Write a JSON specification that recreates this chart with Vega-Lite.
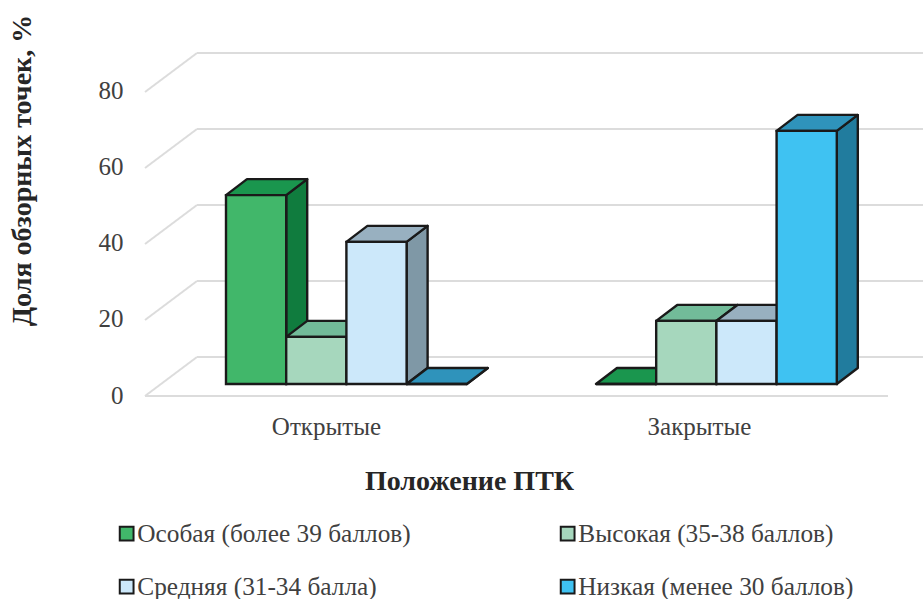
{
"$schema":"https://vega.github.io/schema/vega-lite/v6.json",
"width":798,"height":395,
"autosize":{"type":"none"},
"padding":{"left":125,"top":10,"right":0,"bottom":194},
"background":"white",
"config":{"view":{"stroke":null},"font":"Liberation Serif"},
"datasets":{
"bars":[
{"group":"Открытые","series":"Особая (более 39 баллов)","value":49.7},
{"group":"Открытые","series":"Высокая (35-38 баллов)","value":12.4},
{"group":"Открытые","series":"Средняя (31-34 балла)","value":37.4},
{"group":"Открытые","series":"Низкая (менее 30 баллов)","value":0},
{"group":"Закрытые","series":"Особая (более 39 баллов)","value":0},
{"group":"Закрытые","series":"Высокая (35-38 баллов)","value":16.6},
{"group":"Закрытые","series":"Средняя (31-34 балла)","value":16.6},
{"group":"Закрытые","series":"Низкая (менее 30 баллов)","value":66.6}
],
"grid":[{"tick":0},{"tick":20},{"tick":40},{"tick":60},{"tick":80}]
},
"layer":[
{"data":{"name":"grid"},
 "transform":[{"calculate":"datum.tick+7.105","as":"back"}],
 "mark":{"type":"rule","color":"#dcdcdc","strokeWidth":2},
 "encoding":{
  "y":{"field":"back","type":"quantitative","scale":{"domain":[-5.526,98.42],"nice":false,"zero":false},
   "axis":{"orient":"left","values":[0,20,40,60,80],"domain":false,"ticks":false,"grid":false,"labelOffset":11,
    "labelFontSize":25,"labelColor":"#404040","labelPadding":2,"labelFont":"Liberation Serif",
    "title":"Доля обзорных точек, %","titleFontSize":28,"titleFontWeight":"bold","titleColor":"#262626","titleFont":"Liberation Serif","titleX":-103,"titleY":160,"titleBaseline":"middle"}},
  "x":{"datum":-0.4817,"type":"quantitative","scale":{"domain":[-1.6777,11.578],"nice":false,"zero":false},
   "axis":{"orient":"bottom","values":[1.661,7.857],"labelExpr":"datum.value<5?'Открытые':'Закрытые'","domain":false,"ticks":false,"grid":false,
    "labelFontSize":25,"labelColor":"#404040","labelPadding":9,"labelFont":"Liberation Serif",
    "title":"Положение ПТК","titleFontSize":28,"titleFontWeight":"bold","titleColor":"#262626","titleFont":"Liberation Serif","titleX":344,"titleY":76,"titleBaseline":"middle"}},
  "x2":{"datum":11.578}
 }},
{"data":{"name":"grid"},
 "transform":[{"calculate":"datum.tick+7.105","as":"back"},{"calculate":"datum.tick-3.158","as":"front"}],
 "mark":{"type":"rule","color":"#dcdcdc","strokeWidth":2},
 "encoding":{
  "y":{"field":"front","type":"quantitative"},
  "y2":{"field":"back"},
  "x":{"datum":-1.3455,"type":"quantitative"},
  "x2":{"datum":-0.4817}
 }},
{"data":{"name":"grid"},
 "transform":[{"filter":"datum.tick==0"},{"calculate":"datum.tick-3.158","as":"front"}],
 "mark":{"type":"rule","color":"#dcdcdc","strokeWidth":2},
 "encoding":{
  "y":{"field":"front","type":"quantitative"},
  "x":{"datum":-1.3455,"type":"quantitative"},
  "x2":{"datum":10.997}
 }},
{"data":{"name":"bars"},
 "transform":[
  {"calculate":"(datum.group=='Открытые'?0:6.146)+indexof(['Особая (более 39 баллов)','Высокая (35-38 баллов)','Средняя (31-34 балла)','Низкая (менее 30 баллов)'],datum.series)","as":"u"},
  {"calculate":"[0,1]","as":"t"},{"flatten":["t"]},
  {"calculate":"datum.u+1+datum.t*0.349","as":"sx"},
  {"calculate":"datum.value+datum.t*4.21","as":"sy"},
  {"calculate":"datum.t*4.21","as":"sy0"}
 ],
 "mark":{"type":"area","stroke":"#1a1a1a","strokeWidth":2.4,"strokeJoin":"round"},
 "encoding":{
  "x":{"field":"sx","type":"quantitative"},
  "y":{"field":"sy","type":"quantitative"},
  "y2":{"field":"sy0"},
  "detail":{"field":"u"},
  "fill":{"field":"series","type":"nominal","legend":null,
   "scale":{"domain":["Особая (более 39 баллов)","Высокая (35-38 баллов)","Средняя (31-34 балла)","Низкая (менее 30 баллов)"],
   "range":["#107c3e","#5ea584","#7f98a6","#217c9e"]}}
 }},
{"data":{"name":"bars"},
 "transform":[
  {"calculate":"(datum.group=='Открытые'?0:6.146)+indexof(['Особая (более 39 баллов)','Высокая (35-38 баллов)','Средняя (31-34 балла)','Низкая (менее 30 баллов)'],datum.series)","as":"u"},
  {"calculate":"[0,1]","as":"t"},{"flatten":["t"]},
  {"calculate":"datum.u+datum.t*0.349","as":"tx"},
  {"calculate":"datum.u+1+datum.t*0.349","as":"tx2"},
  {"calculate":"datum.value+datum.t*4.21","as":"ty"}
 ],
 "mark":{"type":"area","orient":"horizontal","stroke":"#1a1a1a","strokeWidth":2.4,"strokeJoin":"round"},
 "encoding":{
  "y":{"field":"ty","type":"quantitative"},
  "x":{"field":"tx","type":"quantitative"},
  "x2":{"field":"tx2"},
  "detail":{"field":"u"},
  "fill":{"field":"series","type":"nominal","legend":null,
   "scale":{"domain":["Особая (более 39 баллов)","Высокая (35-38 баллов)","Средняя (31-34 балла)","Низкая (менее 30 баллов)"],
   "range":["#1a964e","#72bb99","#98b0c0","#2f93bb"]}}
 }},
{"data":{"name":"bars"},
 "transform":[
  {"calculate":"(datum.group=='Открытые'?0:6.146)+indexof(['Особая (более 39 баллов)','Высокая (35-38 баллов)','Средняя (31-34 балла)','Низкая (менее 30 баллов)'],datum.series)","as":"u"},
  {"calculate":"datum.u+1","as":"u1"},
  {"calculate":"0","as":"base"}
 ],
 "mark":{"type":"rect","stroke":"#1a1a1a","strokeWidth":2.4},
 "encoding":{
  "x":{"field":"u","type":"quantitative"},
  "x2":{"field":"u1"},
  "y":{"field":"value","type":"quantitative"},
  "y2":{"field":"base"},
  "fill":{"field":"series","type":"nominal",
   "scale":{"domain":["Особая (более 39 баллов)","Высокая (35-38 баллов)","Средняя (31-34 балла)","Низкая (менее 30 баллов)"],
   "range":["#41b76a","#a6d7bd","#cce8fa","#3fc2f2"]},
   "legend":{"orient":"none","legendX":-11,"legendY":511,"title":null,"columns":2,"direction":"horizontal","symbolType":"square","symbolSize":190,"symbolStrokeColor":"#1a1a1a","symbolStrokeWidth":2,"labelFontSize":25.3,"labelColor":"#404040","labelFont":"Liberation Serif","columnPadding":142,"rowPadding":27,"labelLimit":400,"labelOffset":-2,"padding":0,"gridAlign":"all"}}
 }}
],
"resolve":{"scale":{"fill":"independent"}}
}
